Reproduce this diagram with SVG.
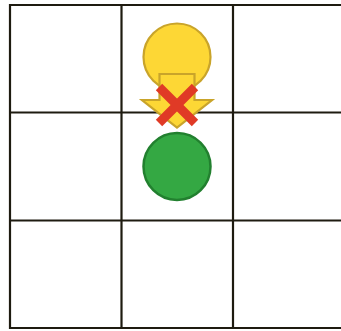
<svg xmlns="http://www.w3.org/2000/svg" width="341" height="331" viewBox="0 0 341 331">
<style>
.grid{stroke:#1e1b10;stroke-width:2.2;fill:none}
.yel{fill:#fdd735;stroke:#c9a42a;stroke-width:2.2}
.grn{fill:#34a843;stroke:#22802f;stroke-width:2.5}
.x{stroke:#e03a26;stroke-width:9;stroke-linecap:butt}
</style>
<rect width="341" height="331" fill="#ffffff"/>
<g id="grid" class="grid">
<line x1="10" y1="4" x2="10" y2="329"/>
<line x1="121.5" y1="4" x2="121.5" y2="329"/>
<line x1="233" y1="4" x2="233" y2="329"/>
<line x1="9" y1="5" x2="341" y2="5"/>
<line x1="9" y1="112.5" x2="341" y2="112.5"/>
<line x1="9" y1="220.5" x2="341" y2="220.5"/>
<line x1="9" y1="328" x2="341" y2="328"/>
</g>
<g id="yellow-circle"><circle class="yel" cx="177" cy="57" r="33.5"/></g>
<g id="green-circle"><circle class="grn" cx="177" cy="166.5" r="33.5"/></g>
<g id="connectors">
<polygon class="yel" points="159.5,74 194.5,74 194.5,100 212,100 177,127.5 142,100 159.5,100"/>
<g id="cross">
<line class="x" x1="159" y1="87" x2="195" y2="123"/>
<line class="x" x1="195" y1="87" x2="159" y2="123"/>
</g>
</g>
</svg>
